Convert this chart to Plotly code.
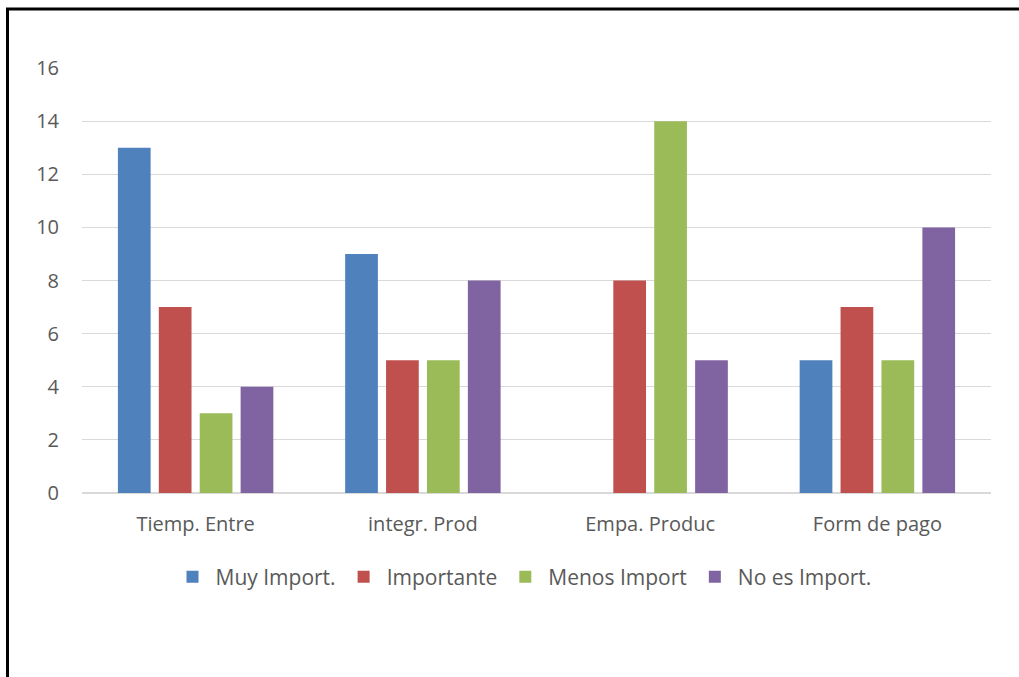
import plotly.graph_objects as go

categories = ["Tiemp. Entre", "integr. Prod", "Empa. Produc", "Form de pago"]
muy_import = [13, 9, 0, 5]
importante = [7, 5, 8, 7]
menos_import = [3, 5, 14, 5]
no_es_import = [4, 8, 5, 10]

series = [
    ("Muy Import.", muy_import, "#4F81BD"),
    ("Importante", importante, "#C0504D"),
    ("Menos Import", menos_import, "#9BBB59"),
    ("No es Import.", no_es_import, "#8064A2"),
]

fig = go.Figure()
for name, vals, color in series:
    fig.add_trace(go.Bar(name=name, x=categories, y=vals, marker_color=color,
                         marker_line_width=0))

L, R, T, B = 82, 28, 68, 184
W, H = 1019, 677
pw = W - L - R
ph = H - T - B

fig.update_layout(
    width=W, height=H,
    margin=dict(l=L, r=R, t=T, b=B, pad=0),
    paper_bgcolor="white", plot_bgcolor="white",
    barmode="group", bargap=0.28, bargroupgap=0.2,
    font=dict(family="Open Sans", size=20, color="#595959"),
    yaxis=dict(range=[0, 16], dtick=2, showgrid=True, gridcolor="#D9D9D9",
               gridwidth=1, zeroline=True, zerolinecolor="#D9D9D9",
               ticks="", showline=False, tickfont=dict(size=20), ticklabelstandoff=22),
    xaxis=dict(showline=False, ticks="", tickfont=dict(size=20), ticklabelstandoff=17),
    legend=dict(orientation="h", x=(523 - L) / pw, xanchor="center", y=(493 - 577) / ph,
                yanchor="middle", font=dict(size=21), itemwidth=36,
                traceorder="normal"),
    shapes=[dict(type="rect", xref="paper", yref="paper",
                 x0=(7.5 - L) / pw, x1=(W + 5 - L) / pw,
                 y0=(493 - 690) / ph, y1=(493 - 9) / ph,
                 line=dict(color="black", width=3), layer="above")],
)

fig.write_html("out.html")
